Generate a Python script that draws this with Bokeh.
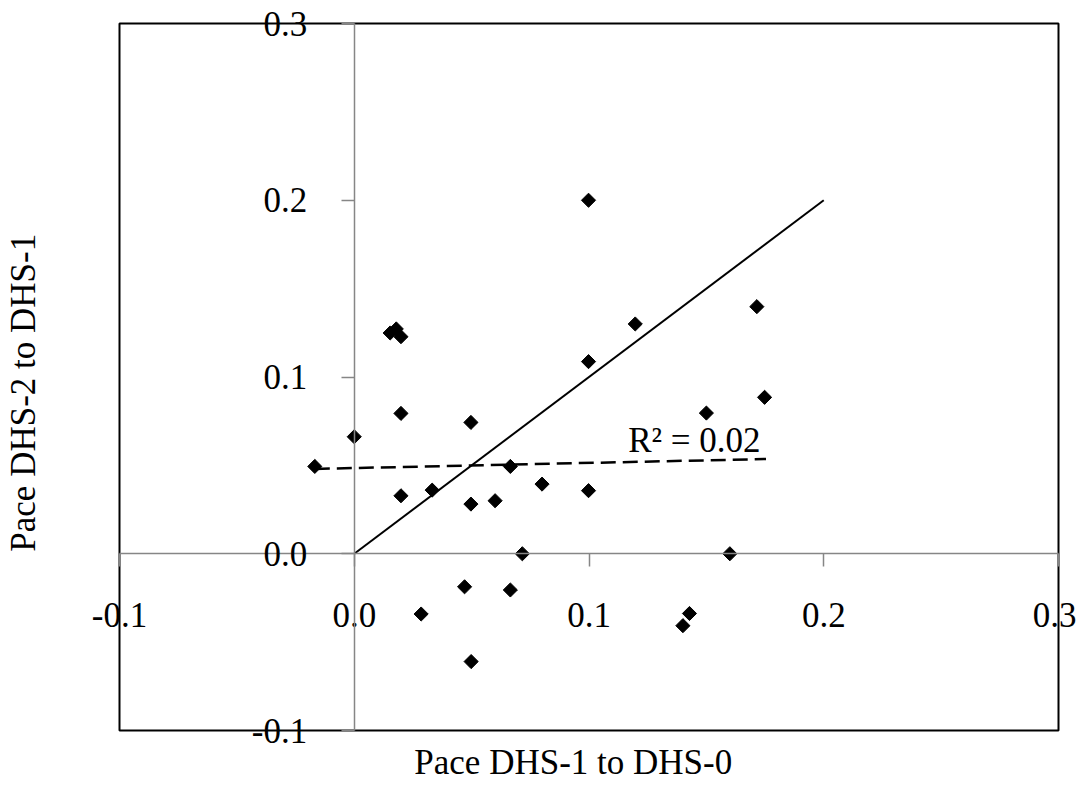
import numpy as np
from bokeh.plotting import figure
from bokeh.models import (LinearAxis, FixedTicker, NumeralTickFormatter, Range1d,
                          Label, ColumnDataSource)
from bokeh.embed import file_html
from bokeh.resources import INLINE

# ---- data ----
pace_dhs1_to_dhs0 = [0.0153, 0.0179, 0.0199, 0.1197, 0.0998, 0.0998, 0.0199, 0.0497,
                     0.0000, -0.0168, 0.0665, 0.0800, 0.0998, 0.0199, 0.0332, 0.0497,
                     0.0600, 0.0716, 0.0470, 0.0665, 0.0285, 0.0498, 0.1715, 0.1748,
                     0.1500, 0.1600, 0.1428, 0.1400]
pace_dhs2_to_dhs1 = [0.1249, 0.1272, 0.1228, 0.1300, 0.1087, 0.2000, 0.0794, 0.0743,
                     0.0662, 0.0494, 0.0494, 0.0394, 0.0357, 0.0328, 0.0360, 0.0281,
                     0.0300, 0.0000, -0.0187, -0.0205, -0.0341, -0.0610, 0.1398, 0.0885,
                     0.0796, 0.0000, -0.0338, -0.0407]
equality_x = [0.0, 0.2]
equality_y = [0.0, 0.2]
trend_x = [-0.0168, 0.1754]
trend_y = [0.0480, 0.0536]
r2_text = "R\u00b2 = 0.02"
x_ticks = [-0.1, 0.0, 0.1, 0.2, 0.3]
y_ticks = [-0.1, 0.0, 0.1, 0.2, 0.3]
x_title = "Pace DHS-1 to DHS-0"
y_title = "Pace DHS-2 to DHS-1"

FONT = "Liberation Serif"
FS = "35px"
AXIS_GRAY = "#868686"

# ---- layout: the frame fills the canvas, the plot box is drawn inside it ----
W, H = 1076, 788
BOX_L, BOX_R, BOX_T, BOX_B = 119, 1058, 23, 730      # pixel edges of the plot box
x0, x1 = x_ticks[0], x_ticks[-1]
y0, y1 = y_ticks[0], y_ticks[-1]
sx = (BOX_R - BOX_L) / (x1 - x0)
sy = (BOX_B - BOX_T) / (y1 - y0)
xr = Range1d(x0 - BOX_L / sx, x0 + (W - BOX_L) / sx)
yr = Range1d(y1 - (H - BOX_T) / sy, y1 + BOX_T / sy)

p = figure(width=W, height=H, output_backend="svg", toolbar_location=None,
           x_axis_type=None, y_axis_type=None, x_range=xr, y_range=yr,
           min_border=0)
p.outline_line_color = None
p.background_fill_color = "white"
p.border_fill_color = "white"

# plot box
p.quad(left=[x0], right=[x1], bottom=[y0], top=[y1], fill_color=None,
       line_color="black", line_width=2)


def style_axis(ax):
    ax.axis_line_color = AXIS_GRAY
    ax.axis_line_width = 1.5
    ax.major_tick_line_color = AXIS_GRAY
    ax.major_tick_line_width = 1.5
    ax.major_tick_out = 13
    ax.major_tick_in = 0
    ax.minor_tick_line_color = None
    ax.major_label_text_font = FONT
    ax.major_label_text_font_size = FS
    ax.major_label_text_color = "black"
    ax.formatter = NumeralTickFormatter(format="0.0")


xaxis = LinearAxis(fixed_location=0, bounds=(x0, x1), ticker=FixedTicker(ticks=x_ticks))
style_axis(xaxis)
xaxis.major_label_standoff = 36
p.add_layout(xaxis, "below")

yaxis = LinearAxis(fixed_location=0, bounds=(y0, y1), ticker=FixedTicker(ticks=y_ticks))
style_axis(yaxis)
yaxis.major_label_standoff = 34
p.add_layout(yaxis, "left")

# lines
p.line(equality_x, equality_y, line_color="black", line_width=2)
p.line(trend_x, trend_y, line_color="black", line_width=2.5, line_dash="15 7")

# points
src = ColumnDataSource(dict(x=pace_dhs1_to_dhs0, y=pace_dhs2_to_dhs1))
p.scatter("x", "y", source=src, marker="square", size=10, angle=np.pi / 4,
          fill_color="black", line_color="black")

p.add_layout(Label(x=0.1167, y=0.0639, text=r2_text, text_font=FONT,
                   text_font_size=FS, text_color="black",
                   text_baseline="middle", text_align="left"))

# axis titles
p.add_layout(Label(x=0.0933, y=-0.1182, text=x_title, text_font=FONT,
                   text_font_size=FS, text_color="black",
                   text_align="center", text_baseline="middle"))
p.add_layout(Label(x=-0.1410, y=0.0911, text=y_title, text_font=FONT,
                   text_font_size=FS, text_color="black", angle=np.pi / 2,
                   text_align="center", text_baseline="middle"))

open("out.html", "w").write(file_html(p, INLINE))
